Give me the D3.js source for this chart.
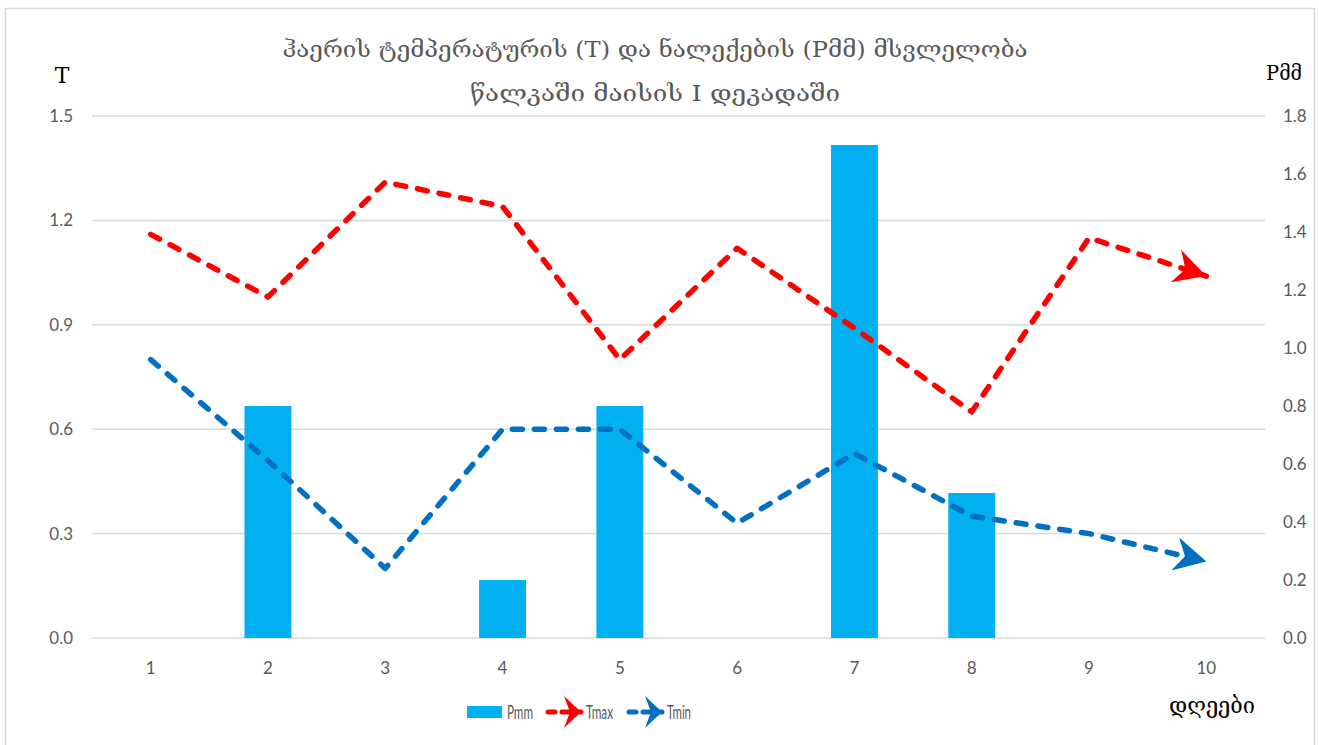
<!DOCTYPE html>
<html>
<head>
<meta charset="utf-8">
<script src="https://cdn.jsdelivr.net/npm/d3@7"></script>
<style>
  body { margin: 0; background: #fff; }
  svg { display: block; }
  .tick text { font-family: Lato, "Open Sans", sans-serif; font-size: 17px; fill: #595959; }
</style>
</head>
<body>
<svg id="chart" width="1319" height="745"></svg>
<script>
// data
const days = [1, 2, 3, 4, 5, 6, 7, 8, 9, 10];
const pmm  = [0, 0.8, 0, 0.2, 0.8, 0, 1.7, 0.5, 0, 0];
const tmax = [1.16, 0.98, 1.31, 1.24, 0.80, 1.12, 0.89, 0.65, 1.15, 1.04];
const tmin = [0.80, 0.51, 0.20, 0.60, 0.60, 0.33, 0.53, 0.35, 0.30, 0.22];
const tTicks = [0, 0.3, 0.6, 0.9, 1.2, 1.5];
const pTicks = [0, 0.2, 0.4, 0.6, 0.8, 1.0, 1.2, 1.4, 1.6, 1.8];
const titleLines = ['ჰაერის ტემპერატურის (T) და ნალექების (Pმმ) მსვლელობა', 'წალკაში მაისის I დეკადაში'];

const svg = d3.select('#chart');
const margin = { top: 116, right: 54, bottom: 107, left: 92 },
  width = 1319 - margin.left - margin.right,
  height = 745 - margin.top - margin.bottom;

// outer frame
svg.append('rect')
  .attr('x', 5.5).attr('y', 8.5).attr('width', 1309).attr('height', 745)
  .attr('fill', 'none').attr('stroke', '#d9d9d9').attr('stroke-width', 1.5);

const x = d3.scaleBand().domain(days).range([0, width]).padding(0);
const yT = d3.scaleLinear().domain([0, 1.5]).range([height, 0]);
const yP = d3.scaleLinear().domain([0, 1.8]).range([height, 0]);
const cx = (d) => x(d) + x.bandwidth() / 2;

const defs = svg.append('defs');
function arrow(id, color, len, half, notch) {
  defs.append('marker')
    .attr('id', id)
    .attr('markerUnits', 'userSpaceOnUse')
    .attr('viewBox', `${-len - 2} ${-half - 2} ${len + 4} ${2 * half + 4}`)
    .attr('markerWidth', len + 4).attr('markerHeight', 2 * half + 4)
    .attr('refX', 0).attr('refY', 0)
    .attr('orient', 'auto')
    .append('path')
    .attr('d', `M0,0 L${-len},${-half} L${-len + notch},0 L${-len},${half} Z`)
    .attr('fill', color);
}
arrow('arrowRed', '#ff0000', 32, 17, 10);
arrow('arrowBlue', '#0070c0', 32, 17, 10);
arrow('legRed', '#ff0000', 17, 16, 6);
arrow('legBlue', '#0070c0', 17, 16, 6);

const g = svg.append('g')
  .attr('transform', `translate(${margin.left},${margin.top})`);

// gridlines
g.append('g')
  .selectAll('line')
  .data(tTicks)
  .enter()
  .append('line')
  .attr('x1', 0).attr('x2', width)
  .attr('y1', (d) => yT(d)).attr('y2', (d) => yT(d))
  .attr('stroke', '#d9d9d9').attr('stroke-width', 1.5);

// axes (text only)
g.append('g')
  .attr('class', 'axis axis--yl')
  .call(d3.axisLeft(yT).tickValues(tTicks).tickFormat(d3.format('.1f')).tickSize(0).tickPadding(19))
  .call((a) => a.select('.domain').remove());

g.append('g')
  .attr('class', 'axis axis--yr')
  .attr('transform', `translate(${width},0)`)
  .call(d3.axisRight(yP).tickValues(pTicks).tickFormat(d3.format('.1f')).tickSize(0).tickPadding(18))
  .call((a) => a.select('.domain').remove());

g.append('g')
  .attr('class', 'axis axis--x')
  .attr('transform', `translate(0,${height})`)
  .call(d3.axisBottom(x).tickSize(0).tickPadding(24))
  .call((a) => a.select('.domain').remove());

// bars
const bw = x.bandwidth() * 0.4;
g.selectAll('.bar')
  .data(days.map((d, i) => ({ day: d, v: pmm[i] })).filter((d) => d.v > 0))
  .enter()
  .append('rect')
  .attr('class', 'bar')
  .attr('x', (d) => cx(d.day) - bw / 2)
  .attr('y', (d) => yP(d.v))
  .attr('width', bw)
  .attr('height', (d) => height - yP(d.v))
  .attr('fill', '#00b0f0');

// lines
const line = d3.line().x((d) => d[0]).y((d) => d[1]);
function drawLine(vals, color, marker) {
  g.append('path')
    .datum(days.map((d, i) => [cx(d), yT(vals[i])]))
    .attr('d', line)
    .attr('fill', 'none')
    .attr('stroke', color)
    .attr('stroke-width', 5.5)
    .attr('stroke-dasharray', '10,12')
    .attr('stroke-linecap', 'round')
    .attr('stroke-linejoin', 'round')
    .attr('marker-end', `url(#${marker})`);
}
drawLine(tmax, '#ff0000', 'arrowRed');
drawLine(tmin, '#0070c0', 'arrowBlue');

// title
svg.append('g').selectAll('text')
  .data(titleLines)
  .enter()
  .append('text')
  .attr('x', 655)
  .attr('y', (d, i) => 57 + i * 44)
  .attr('text-anchor', 'middle')
  .attr('textLength', (d, i) => i === 0 ? 745 : 370)
  .attr('lengthAdjust', 'spacingAndGlyphs')
  .style('font-family', '"DejaVu Serif", "DejaVu Sans", serif')
  .style('font-size', '22px')
  .style('fill', '#595959')
  .text((d) => d);

// axis titles
svg.append('text').attr('x', 62).attr('y', 83).attr('text-anchor', 'middle')
  .style('font-family', '"DejaVu Serif", "Liberation Serif", serif').style('font-size', '22px')
  .style('fill', '#000').text('T');
svg.append('text').attr('x', 1284).attr('y', 80).attr('text-anchor', 'middle')
  .attr('textLength', 36).attr('lengthAdjust', 'spacingAndGlyphs')
  .style('font-family', '"DejaVu Serif", "Liberation Serif", serif').style('font-size', '21px')
  .style('fill', '#000').text('Pმმ');
svg.append('text').attr('x', 1212).attr('y', 713).attr('text-anchor', 'middle')
  .attr('textLength', 86).attr('lengthAdjust', 'spacingAndGlyphs')
  .style('font-family', '"DejaVu Serif", "DejaVu Sans", serif').style('font-size', '22px')
  .style('fill', '#000').text('დღეები');

// legend
const leg = svg.append('g').attr('transform', 'translate(0,712)');
leg.append('rect').attr('x', 467).attr('y', -6).attr('width', 35).attr('height', 12).attr('fill', '#00b0f0');
leg.append('path').attr('d', 'M548,0 L581,0').attr('stroke', '#ff0000').attr('stroke-width', 5)
  .attr('stroke-dasharray', '7,7').attr('stroke-linecap', 'round').attr('marker-end', 'url(#legRed)');
leg.append('path').attr('d', 'M629,0 L662,0').attr('stroke', '#0070c0').attr('stroke-width', 5)
  .attr('stroke-dasharray', '7,7').attr('stroke-linecap', 'round').attr('marker-end', 'url(#legBlue)');
const legText = [['Pmm', 507, 26], ['Tmax', 586, 27], ['Tmin', 667, 24]];
leg.selectAll('.lt')
  .data(legText)
  .enter()
  .append('text')
  .attr('class', 'lt')
  .attr('x', (d) => d[1]).attr('y', 7)
  .attr('textLength', (d) => d[2])
  .attr('lengthAdjust', 'spacingAndGlyphs')
  .style('font-family', 'Lato, "Open Sans", sans-serif').style('font-size', '19px')
  .style('fill', '#595959')
  .text((d) => d[0]);
</script>
</body>
</html>
